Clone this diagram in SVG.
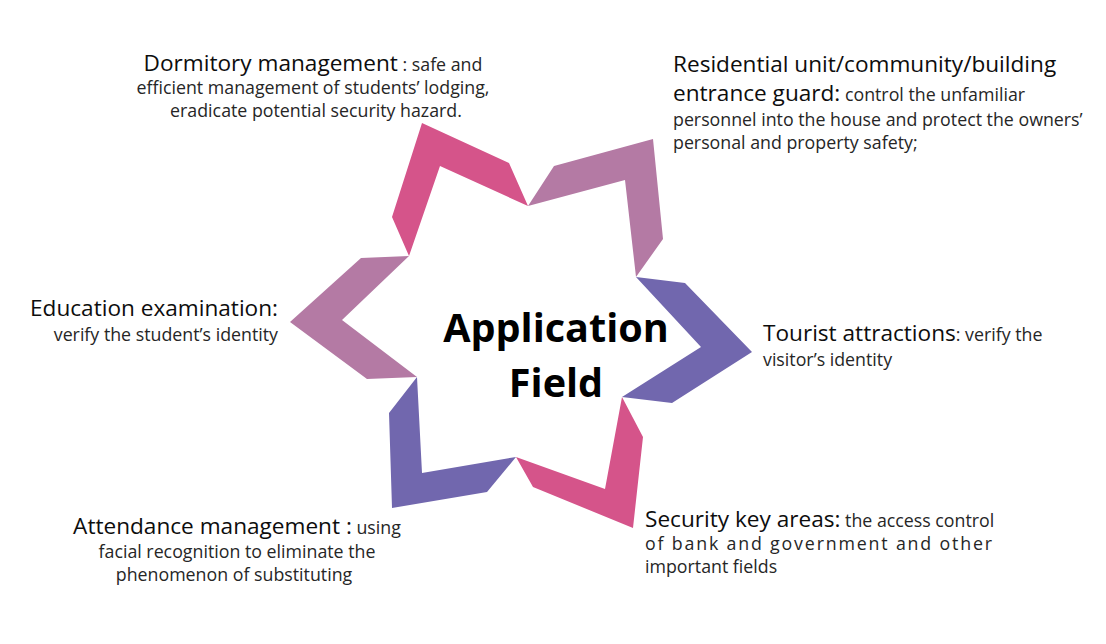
<svg xmlns="http://www.w3.org/2000/svg" width="1106" height="644" viewBox="0 0 1106 644">
<style>
text{font-family:"Open Sans","Noto Sans","DejaVu Sans",sans-serif;}
.h{font-size:22.6px;fill:#0d0d0d;}
.b{font-size:17.8px;fill:#262626;}
.c{font-size:39.6px;font-weight:bold;fill:#000;text-anchor:middle;}
.pink{fill:#D5548A;}
.mauve{fill:#B47AA4;}
.blue{fill:#7167AE;}
</style>
<rect width="1106" height="644" fill="#fff"/>
<g id="star">
<polygon class="pink" points="422,123 509,163 528,206 440,166 409,256 392,217"/>
<polygon class="mauve" points="653,139 663,239 636,277 625,180 528,206 554,166"/>
<polygon class="blue" points="752,352 672,403 622,397 701,347 636,277 685,283"/>
<polygon class="pink" points="633,528 533,487 516,457 605,489 622,397 643,437"/>
<polygon class="blue" points="392,508 487,492 516,457 422,473 417,377 389,413"/>
<polygon class="mauve" points="290,322 361,258 409,256 342,320 417,377 367,379"/>
</g>
<g id="center">
<text class="c" x="556" y="342">Application</text>
<text class="c" x="556" y="397">Field</text>
</g>
<g id="dormitory" text-anchor="middle">
<text x="313" y="71"><tspan class="h">Dormitory management</tspan><tspan class="b"> : safe and</tspan></text>
<text class="b" x="313" y="94">efficient management of students’ lodging,</text>
<text class="b" x="316" y="117">eradicate potential security hazard.</text>
</g>
<g id="residential">
<text class="h" x="673" y="72">Residential unit/community/building</text>
<text x="673" y="101"><tspan class="h">entrance guard:</tspan><tspan class="b"> control the unfamiliar</tspan></text>
<text class="b" x="673" y="126">personnel into the house and protect the owners’</text>
<text class="b" x="673" y="149">personal and property safety;</text>
</g>
<g id="education" text-anchor="end">
<text class="h" x="278" y="316">Education examination:</text>
<text class="b" x="278" y="341">verify the student’s identity</text>
</g>
<g id="tourist">
<text x="763" y="341"><tspan class="h">Tourist attractions</tspan><tspan class="b">: verify the</tspan></text>
<text class="b" x="763" y="366">visitor’s identity</text>
</g>
<g id="attendance" text-anchor="middle">
<text x="237" y="534"><tspan class="h">Attendance management :</tspan><tspan class="b"> using</tspan></text>
<text class="b" x="237" y="558">facial recognition to eliminate the</text>
<text class="b" x="234" y="581">phenomenon of substituting</text>
</g>
<g id="security">
<text x="645" y="527"><tspan class="h">Security key areas:</tspan><tspan class="b"> the access control</tspan></text>
<text class="b" x="645" y="550" textLength="347" lengthAdjust="spacing">of bank and government and other</text>
<text class="b" x="645" y="573">important fields</text>
</g>
</svg>
